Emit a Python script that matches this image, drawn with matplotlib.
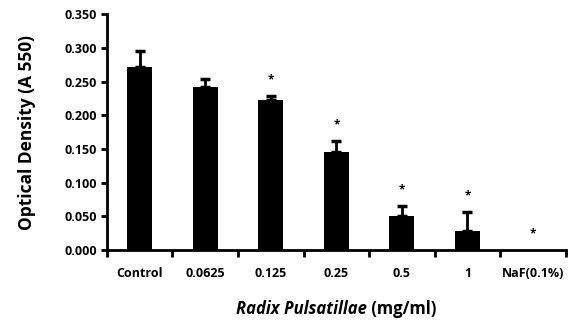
import matplotlib
matplotlib.use("Agg")
import matplotlib.pyplot as plt
import numpy as np

plt.rcParams["font.family"] = ["Open Sans", "DejaVu Sans"]

categories = ["Control", "0.0625", "0.125", "0.25", "0.5", "1", "NaF(0.1%)"]
density = [0.271, 0.242, 0.222, 0.145, 0.051, 0.029, 0.0]
error = [0.024, 0.011, 0.006, 0.017, 0.015, 0.028, 0.0]
significant = [False, False, True, True, True, True, True]
y_ticks = [0.0, 0.05, 0.10, 0.15, 0.20, 0.25, 0.30, 0.35]

fig = plt.figure(figsize=(5.72, 3.27), dpi=100)
ax = fig.add_axes([0.187, 0.235, 0.802, 0.722])

x = np.arange(len(categories))
dens = np.array(density)
err = np.array(error)
ax.bar(x, dens, width=0.38, color="black", zorder=2)
has_err = err > 0
ax.errorbar(x[has_err], dens[has_err], yerr=[np.zeros(has_err.sum()), err[has_err]],
            fmt="none", ecolor="black", elinewidth=2, capsize=3.5, capthick=2.5, zorder=3)

for xi, d, e, sig in zip(x, dens, err, significant):
    if sig:
        ax.annotate("*", xy=(xi, d + e), xytext=(0, 7), textcoords="offset points",
                    ha="center", va="bottom", fontsize=8.5, fontweight="bold")

ax.set_xlim(-0.5, len(categories) - 0.5)
ax.set_ylim(0, 0.35)
ax.set_yticks(y_ticks)
ax.set_yticklabels([f"{t:.3f}" for t in y_ticks])
ax.set_xticks(x)
ax.set_xticklabels(categories)
ax.set_xticks(np.arange(len(categories) + 1) - 0.5, minor=True)
ax.tick_params(axis="x", which="major", length=0, pad=12)
ax.tick_params(axis="x", which="minor", length=5, width=2, direction="out")
ax.tick_params(axis="y", length=4, width=2, direction="out", pad=3)
for lab in ax.get_xticklabels() + ax.get_yticklabels():
    lab.set_fontsize(9)
    lab.set_fontweight("bold")

for side in ("top", "right"):
    ax.spines[side].set_visible(False)
for side in ("left", "bottom"):
    ax.spines[side].set_linewidth(2)

ax.set_ylabel("Optical Density (A 550)", fontsize=12.5, fontweight="bold")
ax.yaxis.set_label_coords(-0.155, 0.5)

# x label: italic species name followed by upright unit
fig.canvas.draw()
renderer = fig.canvas.get_renderer()
t1 = fig.text(0, 0.055, "Radix Pulsatillae", fontsize=12, fontweight="bold",
              style="italic", va="center")
t2 = fig.text(0, 0.055, " (mg/ml)", fontsize=12, fontweight="bold", va="center")
w1 = t1.get_window_extent(renderer).width
w2 = t2.get_window_extent(renderer).width
fw = fig.get_figwidth() * fig.dpi
cx = (0.187 + 0.802 / 2) * fw
start = cx - (w1 + w2) / 2
t1.set_x(start / fw)
t2.set_x((start + w1) / fw)

fig.savefig("out.png", dpi=100)
